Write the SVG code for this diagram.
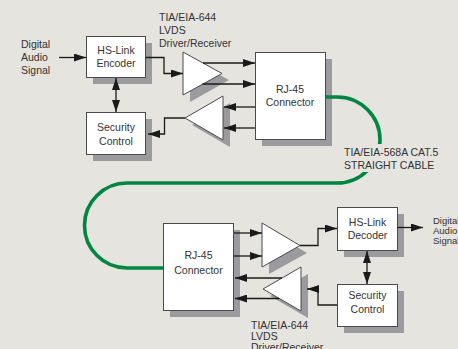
<svg xmlns="http://www.w3.org/2000/svg" width="458" height="349" viewBox="0 0 458 349">
<defs>
<style>
.bg{fill:#e5e4de}
.sh{fill:#9b9b9f}
.bx{fill:#fff;stroke:#4a4a4a;stroke-width:1}
.t{font-family:"Liberation Sans",Arial,sans-serif;font-size:10.5px;fill:#333}
.s{font-size:9.5px}
.c{text-anchor:middle}
.ln{fill:none;stroke:#1a1a1a;stroke-width:1.3}
.cable{fill:none;stroke:#008542;stroke-width:3.6}
</style>
<marker id="ah" markerUnits="userSpaceOnUse" markerWidth="12" markerHeight="8" refX="12" refY="4" orient="auto">
<path d="M0,0 L12,4 L0,8 z" fill="#1a1a1a"/>
</marker>
<marker id="as" markerUnits="userSpaceOnUse" markerWidth="12" markerHeight="8" refX="0" refY="4" orient="auto">
<path d="M12,0 L0,4 L12,8 z" fill="#1a1a1a"/>
</marker>
</defs>
<rect class="bg" x="0" y="0" width="458" height="349"/>

<g id="label-in" class="t">
<text x="21" y="48">Digital</text>
<text x="21" y="61">Audio</text>
<text x="21" y="74">Signal</text>
</g>
<g id="label-out" class="t s">
<text x="433" y="224">Digital</text>
<text x="433" y="234">Audio</text>
<text x="433" y="244">Signal</text>
</g>
<g id="label-lvds-top" class="t">
<text x="159" y="21">TIA/EIA-644</text>
<text x="159" y="34">LVDS</text>
<text x="159" y="47">Driver/Receiver</text>
</g>
<g id="label-lvds-bottom" class="t">
<text x="251" y="329">TIA/EIA-644</text>
<text x="251" y="340">LVDS</text>
<text x="251" y="351">Driver/Receiver</text>
</g>

<g id="encoder">
<rect class="sh" x="93" y="43" width="59" height="41"/>
<rect class="bx" x="86.5" y="36.5" width="59" height="41"/>
<text class="t c" x="116" y="54">HS-Link</text>
<text class="t c" x="116" y="67">Encoder</text>
</g>
<g id="security-top">
<rect class="sh" x="93" y="119" width="59" height="42"/>
<rect class="bx" x="86.5" y="112.5" width="59" height="42"/>
<text class="t c" x="116" y="131">Security</text>
<text class="t c" x="116" y="144.5">Control</text>
</g>
<g id="rj45-top">
<rect class="sh" x="262" y="59" width="70" height="87"/>
<rect class="bx" x="255.5" y="52.5" width="70" height="87"/>
<text class="t c" x="290" y="92.5">RJ-45</text>
<text class="t c" x="290" y="106">Connector</text>
</g>
<g id="driver-top">
<polygon class="sh" points="190,59 190,102 229,80"/>
<polygon class="bx" points="183,52 183,95 222,73.5"/>
</g>
<g id="receiver-top">
<polygon class="sh" points="230,103 230,147 192,125"/>
<polygon class="bx" points="223,96 223,140 185,118"/>
</g>
<g id="rj45-bottom">
<rect class="sh" x="170" y="230" width="70" height="87"/>
<rect class="bx" x="163.5" y="223.5" width="70" height="87"/>
<text class="t c" x="198.5" y="259">RJ-45</text>
<text class="t c" x="198.5" y="274">Connector</text>
</g>
<g id="receiver-bottom">
<polygon class="sh" points="269,230 269,274 307,253"/>
<polygon class="bx" points="262,223 262,267 300,245.5"/>
</g>
<g id="driver-bottom">
<polygon class="sh" points="308,274 308,318 270,296"/>
<polygon class="bx" points="301,267 301,311 263,289"/>
</g>
<g id="decoder">
<rect class="sh" x="344" y="214" width="60" height="43"/>
<rect class="bx" x="337.5" y="207.5" width="60" height="43"/>
<text class="t c" x="367.5" y="226">HS-Link</text>
<text class="t c" x="367.5" y="239">Decoder</text>
</g>
<g id="security-bottom">
<rect class="sh" x="344" y="291" width="60" height="42"/>
<rect class="bx" x="337.5" y="284.5" width="60" height="42"/>
<text class="t c" x="367.5" y="299">Security</text>
<text class="t c" x="367.5" y="312.5">Control</text>
</g>

<g id="connectors">
<path class="ln" d="M59,57.5 H86" marker-end="url(#ah)"/>
<path class="ln" d="M145.5,57.5 H164 V73.5 H183" marker-end="url(#ah)"/>
<path class="ln" d="M203,63 H255" marker-end="url(#ah)"/>
<path class="ln" d="M202.5,84 H255" marker-end="url(#ah)"/>
<path class="ln" d="M255,107 H224" marker-end="url(#ah)"/>
<path class="ln" d="M255,128 H224" marker-end="url(#ah)"/>
<path class="ln" d="M185,118 H164.5 V134 H148" marker-end="url(#ah)"/>
<path class="ln" d="M116,78 V112" marker-start="url(#as)" marker-end="url(#ah)"/>
<path class="ln" d="M234,233 H262" marker-end="url(#ah)"/>
<path class="ln" d="M234,256 H262" marker-end="url(#ah)"/>
<path class="ln" d="M300,245.5 H318 V228.5 H337" marker-end="url(#ah)"/>
<path class="ln" d="M397.5,227.5 H423" marker-end="url(#ah)"/>
<path class="ln" d="M367,251 V284" marker-start="url(#as)" marker-end="url(#ah)"/>
<path class="ln" d="M337,305 H318 V289 H307" marker-end="url(#ah)"/>
<path class="ln" d="M282,278 H235" marker-end="url(#ah)"/>
<path class="ln" d="M279,298.5 H235" marker-end="url(#ah)"/>
<path class="cable" d="M325.5,97 H337 A43,43 0 0 1 337,183 H127 A42.5,42.5 0 0 0 127,268 H163.5"/>
</g>

<g id="cable-label">
<rect class="bg" x="341" y="144" width="104" height="28"/>
<text class="t" x="344" y="156">TIA/EIA-568A CAT.5</text>
<text class="t" x="344" y="169">STRAIGHT CABLE</text>
</g>
</svg>
